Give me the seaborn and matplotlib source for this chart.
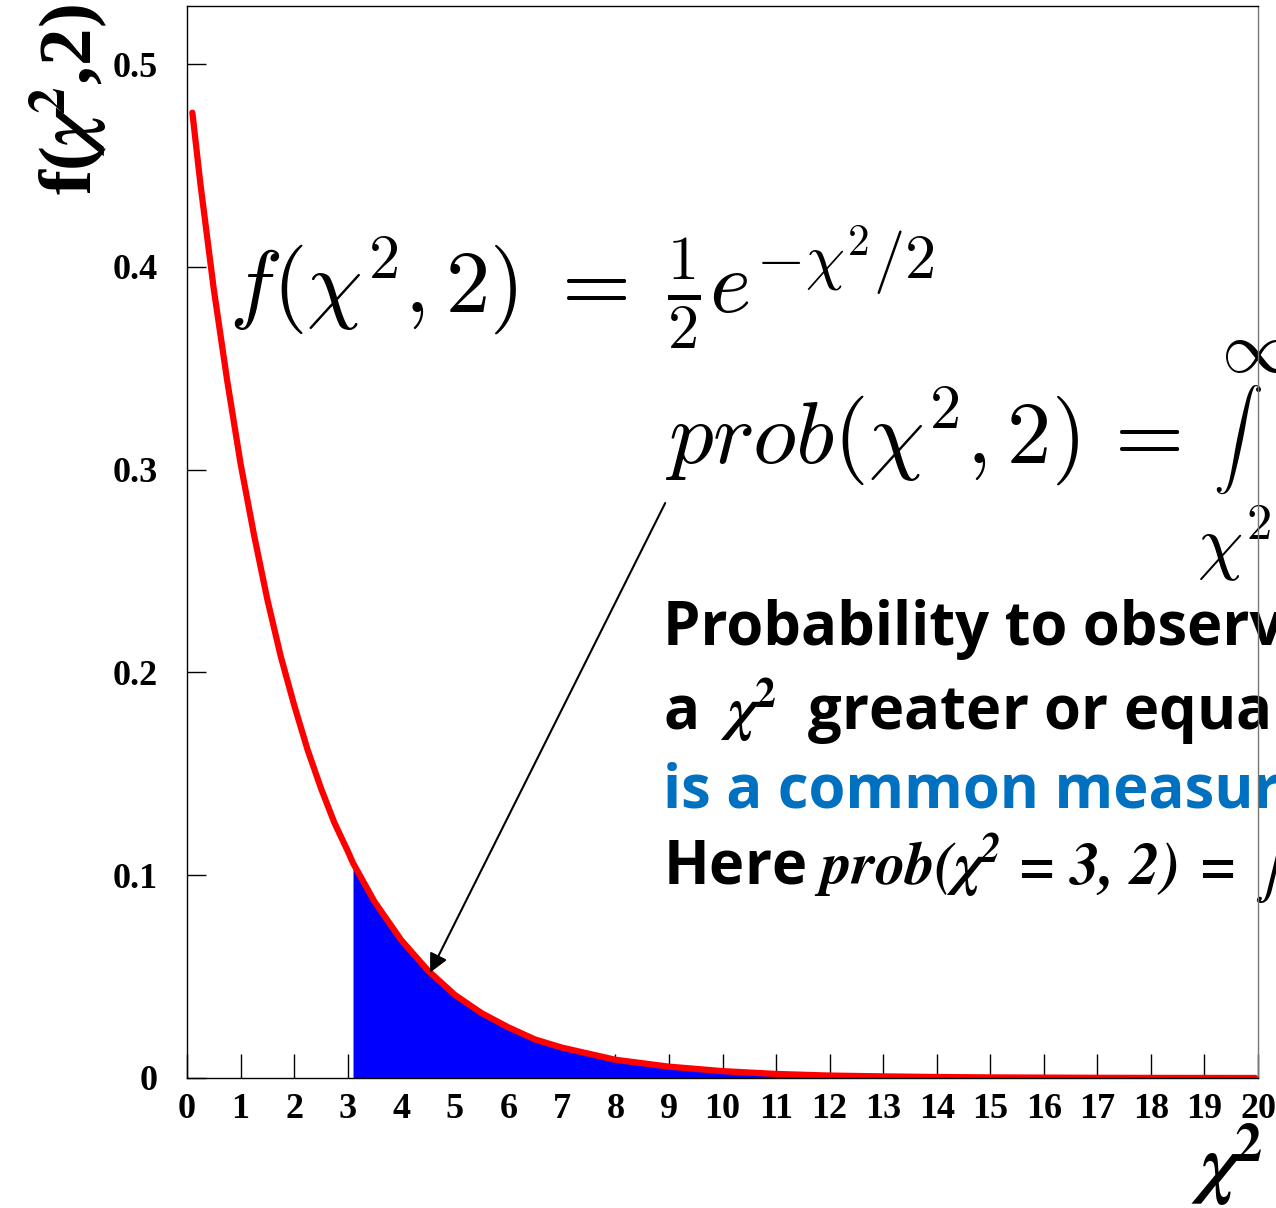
import matplotlib
matplotlib.use("Agg")
import matplotlib.pyplot as plt
import seaborn as sns
import pandas as pd

# chi2 pdf for ndf=2
chi2_x = [0.1, 0.25, 0.5, 0.75, 1.0, 1.25, 1.5, 1.75, 2.0, 2.25, 2.5, 2.75, 3.0, 3.1,
          3.5, 4.0, 4.5, 5.0, 5.5, 6.0, 6.5, 7.0, 7.5, 8.0, 9.0, 10.0, 11.0, 12.0,
          13.0, 14.0, 15.0, 16.0, 17.0, 18.0, 19.0, 19.95]
chi2_f = [0.476, 0.441, 0.389, 0.344, 0.303, 0.268, 0.236, 0.208, 0.184, 0.162, 0.143,
          0.126, 0.112, 0.106, 0.087, 0.068, 0.053, 0.041, 0.032, 0.025, 0.019, 0.015,
          0.012, 0.009, 0.0056, 0.0034, 0.002, 0.0012, 0.0008, 0.0005, 0.0003, 0.0002,
          0.0001, 0.00006, 0.00004, 0.00002]
chi2_cut = 3.1

x_ticks = list(range(0, 21))
y_ticks = [0, 0.1, 0.2, 0.3, 0.4, 0.5]
y_ticklabels = ["0", "0.1", "0.2", "0.3", "0.4", "0.5"]

df = pd.DataFrame({"x": chi2_x, "f": chi2_f})
tail = df[df["x"] >= chi2_cut]

sns.set_style("ticks")
plt.rcParams["mathtext.fontset"] = "cm"
plt.rcParams["text.color"] = "black"
plt.rcParams["xtick.color"] = "black"
plt.rcParams["ytick.color"] = "black"

W, H = 1276, 1208
fig = plt.figure(figsize=(W / 100, H / 100), dpi=100)
ax = fig.add_axes([187 / W, 1 - 1078 / H, (1258 - 187) / W, (1078 - 6) / H])

# shaded tail and the curve
ax.fill_between(tail["x"], 0, tail["f"], color="#0000ff", lw=0, zorder=2)
sns.lineplot(data=df, x="x", y="f", ax=ax, color="#ff0000", lw=4.5, sort=False,
             estimator=None, zorder=3)

ax.set_xlim(0, 20)
ax.set_ylim(0, 0.5286)
ax.set_xticks(x_ticks)
ax.set_yticks(y_ticks)
ax.set_yticklabels(y_ticklabels)
ax.set_xlabel("")
ax.set_ylabel("")
ax.tick_params(axis="x", direction="in", length=17, width=1, pad=11, bottom=True)
ax.tick_params(axis="y", direction="in", length=14, width=1, pad=21, left=True)
for lab in ax.get_xticklabels() + ax.get_yticklabels():
    lab.set_family("Liberation Serif")
    lab.set_weight("bold")
    lab.set_fontsize(26)
    lab.set_color("black")
for s in ax.spines.values():
    s.set_visible(True)
    s.set_color("black")
    s.set_linewidth(1)
    s.set_zorder(5)
ax.spines["right"].set_color("#777777")

# arrow from the integral formula to the tail
ax.annotate("", xy=(4.54, 0.052), xytext=(8.93, 0.2835),
            arrowprops=dict(arrowstyle="-|>", color="black", lw=1.5,
                            mutation_scale=28, shrinkA=0, shrinkB=0), zorder=4)

ax.text(0.78, 0.377, r"$f(\chi^2,2)\;=\;\frac{1}{2}e^{-\chi^2/2}$", fontsize=64,
        ha="left", va="baseline", zorder=4)
ax.text(8.93, 0.303, r"$prob(\chi^2,2)\,=$", fontsize=64,
        ha="left", va="baseline", zorder=4)
ax.text(19.16, 0.3067, r"$\int$", fontsize=36, ha="left", va="baseline", zorder=4)
ax.text(19.3, 0.3575, r"$\infty$", fontsize=52, ha="left", va="center", zorder=4)
ax.text(18.87, 0.252, r"$\chi^2$", fontsize=52, ha="left", va="baseline", zorder=4)

body = dict(family="Open Sans", weight="bold", fontsize=43, ha="left", va="baseline",
            zorder=4, color="black")
ax.text(8.88, 0.2135, "Probability to observe", **body)
ax.text(8.88, 0.1715,
        r"a $\ \boldsymbol{\chi}^{\mathbf{2}}\ $ greater or equal to the observed one",
        math_fontfamily="stix", **body)
body["color"] = "#0070c0"
ax.text(8.88, 0.1330, "is a common measure of goodness of fit", **body)
body["color"] = "black"
ax.text(8.88, 0.0950, r"Here $\mathbfit{prob(\chi^2\,=\,3,\,2)\;=\;}\int$",
        math_fontfamily="stix", **body)

fig.text(68 / W, 1 - 4 / H, r"f($\boldsymbol{\chi}^{\mathbf{2}}$,2)", rotation=90,
         ha="center", va="top", family="Liberation Serif", weight="bold",
         fontsize=54, math_fontfamily="stix", color="black")
fig.text(1262 / W, 1 - 1190 / H, r"$\boldsymbol{\chi}^{\mathbf{2}}$", ha="right",
         va="baseline", fontsize=56, math_fontfamily="stix", color="black")

fig.savefig("out.png", dpi=100)
